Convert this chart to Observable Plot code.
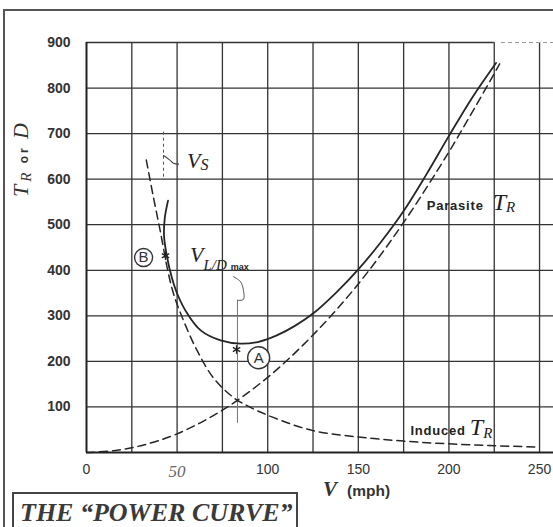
<!DOCTYPE html>
<html>
<head>
<meta charset="utf-8">
<script src="https://cdn.jsdelivr.net/npm/d3@7"></script>
<script src="https://cdn.jsdelivr.net/npm/@observablehq/plot@0.6"></script>
<style>
  body { margin: 0; background: #fff; }
  #wrap { position: relative; width: 553px; height: 527px; overflow: hidden; background: #fff; }
  #frame { position: absolute; left: 3px; top: 9px; width: 600px; height: 600px;
           border-left: 2px solid #555; border-top: 2px solid #555; pointer-events: none; }
  #titlebox { position: absolute; left: 12px; top: 492px; width: 286px; height: 60px;
              border: 2px solid #444; box-sizing: border-box; }
  #titlebox span { position: absolute; left: 6px; top: 4px; white-space: nowrap;
                   font-family: "Liberation Serif", serif; font-style: italic; font-weight: bold;
                   font-size: 26px; color: #3a3a3a; }
  #chart { position: absolute; left: 0; top: 0; }
</style>
</head>
<body>
<div id="wrap">
  <div id="chart"></div>
  <div id="frame"></div>
  <div id="titlebox"><span>THE “POWER CURVE”</span></div>
</div>
<script>
// ---- data ----
const V_ticks = [0, 50, 100, 150, 200, 250];
const TR_ticks = [100, 200, 300, 400, 500, 600, 700, 800, 900];
const V_grid = [25, 50, 75, 100, 125, 150, 175, 200, 225, 250];
const TR_grid = [100, 200, 300, 400, 500, 600, 700, 800];

// Parasite T_R (dashed)
const parasiteV  = [0, 15, 30, 50, 75, 100, 125, 150, 175, 200, 215, 228];
const parasiteTR = [0, 4, 15, 41, 93, 165, 258, 370, 505, 660, 762, 853];

// Induced T_R (dashed)
const inducedV  = [33, 37, 41, 44.5, 48, 53.6, 61, 70, 81, 90, 103, 125, 150, 175, 200, 225, 250];
const inducedTR = [642, 559, 480, 406, 349, 289, 224, 164, 121, 100, 77, 48, 34, 25, 19, 15, 12];

// Total T_R (solid)
const totalV  = [45, 43.2, 42.8, 44.5, 47, 50, 55.6, 63, 74, 85, 95, 105, 115, 125, 137.5, 150, 162.5, 175, 187.5, 200, 213, 226];
const totalTR = [553, 515, 475, 428, 385, 349, 305, 268, 246, 239, 243, 257, 278, 305, 350, 402, 462, 530, 610, 695, 780, 855];

// annotation anchors (data coordinates)
const circleB = {V: 31.5, TR: 428, L: "B"};
const circleA = {V: 95, TR: 208, L: "A"};
const starV = [43.6, 82.8];
const starTR = [432, 226];
const vsLineV = 42.5, vsLineTR = [703, 597];
const vsLeaderV = [42.5, 45.7, 48, 50.8];
const vsLeaderTR = [652, 643, 635, 633];
const ldLineV = 83.3, ldLineTR = [64, 334];
const ldLeaderV = [83.3, 86.6, 86.6, 85.0, 81.1];
const ldLeaderTR = [334, 336, 356, 375, 386];

const rows = (xs, ys) => xs.map((v, i) => ({V: v, TR: ys[i]}));

const ink = "#262626";
const gridInk = "#333";

const chart = Plot.plot({
  width: 553,
  height: 527,
  marginLeft: 86,
  marginRight: 0,
  marginTop: 42,
  marginBottom: 75,
  x: {domain: [0, 257.7]},
  y: {domain: [0, 900]},
  style: {background: "transparent", fontFamily: "Liberation Sans, sans-serif", color: "#333"},
  marks: [
    Plot.ruleX(V_grid, {y1: 0, y2: 900, stroke: gridInk, strokeWidth: 1.3}),
    Plot.ruleY(TR_grid, {stroke: gridInk, strokeWidth: 1.3}),
    Plot.ruleY([900], {x1: 0, x2: 225, stroke: gridInk, strokeWidth: 1.3}),
    Plot.ruleY([900], {x1: 229, x2: 257.7, stroke: "#999", strokeWidth: 1, strokeDasharray: "4,3"}),
    Plot.ruleX([0], {y1: 0, y2: 900, stroke: "#222", strokeWidth: 2}),
    Plot.ruleY([0], {stroke: "#222", strokeWidth: 2}),
    // annotation guide lines
    Plot.ruleX([vsLineV], {y1: vsLineTR[0], y2: vsLineTR[1], stroke: "#555", strokeWidth: 1, strokeDasharray: "3,3"}),
    Plot.line(rows(vsLeaderV, vsLeaderTR), {x: "V", y: "TR", stroke: "#444", strokeWidth: 1.1, curve: "catmull-rom"}),
    Plot.ruleX([ldLineV], {y1: ldLineTR[0], y2: ldLineTR[1], stroke: "#777", strokeWidth: 1}),
    Plot.line(rows(ldLeaderV, ldLeaderTR), {x: "V", y: "TR", stroke: "#555", strokeWidth: 1, curve: "catmull-rom"}),
    // curves
    Plot.line(rows(parasiteV, parasiteTR), {x: "V", y: "TR", stroke: ink, strokeWidth: 1.5, strokeDasharray: "8,5", curve: "catmull-rom"}),
    Plot.line(rows(inducedV, inducedTR), {x: "V", y: "TR", stroke: ink, strokeWidth: 1.5, strokeDasharray: "8,5", curve: "catmull-rom"}),
    Plot.line(rows(totalV, totalTR), {x: "V", y: "TR", stroke: ink, strokeWidth: 1.8, curve: "catmull-rom"}),
    // circled points and stars
    Plot.dot([circleB], {x: "V", y: "TR", r: 9, stroke: "#333", strokeWidth: 1.4, fill: "white"}),
    Plot.dot([circleA], {x: "V", y: "TR", r: 11, stroke: "#333", strokeWidth: 1.4, fill: "white"}),
    Plot.text([circleB, circleA], {x: "V", y: "TR", text: "L", fontSize: 15, fill: "#333", fontFamily: "Liberation Sans"}),
    Plot.dot(rows(starV, starTR), {x: "V", y: "TR", symbol: "asterisk", r: 4, stroke: "#222", strokeWidth: 1.3}),
    // axes
    Plot.axisX(V_ticks, {tickSize: 0, tickPadding: 12, label: null, fontSize: 14, fill: "#333"}),
    Plot.axisY(TR_ticks, {tickSize: 0, tickPadding: 16, label: null, fontSize: 14, fontWeight: "bold", fill: "#333"})
  ]
});

document.getElementById("chart").appendChild(chart);

const sx = chart.scale("x"), sy = chart.scale("y");
const svg = d3.select(chart);

// handwritten-looking "50"
svg.selectAll("text").filter(function () { return this.textContent === "50"; })
  .attr("font-family", "Liberation Serif").attr("font-style", "italic").attr("font-size", 17).attr("fill", "#666");

function rich(x, y, parts, attrs = {}) {
  const t = svg.append("text").attr("x", x).attr("y", y).attr("fill", "#222").attr("text-anchor", "start");
  for (const [k, v] of Object.entries(attrs)) t.attr(k, v);
  for (const p of parts) {
    const s = t.append("tspan").text(p.t)
      .attr("font-family", p.f || "Liberation Serif")
      .attr("font-size", p.s)
      .attr("font-style", p.i ? "italic" : "normal")
      .attr("font-weight", p.b ? "bold" : "normal");
    if (p.dy) s.attr("dy", p.dy);
    if (p.dx) s.attr("dx", p.dx);
    if (p.ls != null) s.attr("letter-spacing", p.ls);
  }
  return t;
}

// V_S
rich(sx.apply(55.7), sy.apply(623), [
  {t: "V", s: 22, i: true},
  {t: "S", s: 16, i: true, dy: 2}
]);

// V_L/D max
rich(sx.apply(57.4), sy.apply(417), [
  {t: "V", s: 22, i: true},
  {t: "L/D", s: 15, i: true, dy: 8},
  {t: "max", s: 9, f: "Liberation Sans", b: true, dx: 4}
]);

// Parasite T_R
rich(sx.apply(188), sy.apply(531), [
  {t: "Parasite", s: 13, f: "Liberation Sans", b: true, ls: 0.8},
  {t: "T", s: 24, i: true, dx: 9, ls: 0},
  {t: "R", s: 15, i: true, dy: 2}
]);

// Induced T_R
rich(sx.apply(179), sy.apply(37), [
  {t: "Induced", s: 13, f: "Liberation Sans", b: true, ls: 0.8},
  {t: "T", s: 24, i: true, dx: 4, ls: 0},
  {t: "R", s: 15, i: true, dy: 3}
]);

// y axis label: T_R or D
rich(0, 0, [
  {t: "T", s: 22, i: true},
  {t: "R", s: 15, i: true, dy: 3},
  {t: " or ", s: 12, f: "Liberation Sans", b: true, dy: -3},
  {t: "D", s: 22, i: true}
], {transform: "translate(28,197) rotate(-90)", "letter-spacing": 3, fill: "#333"});

// x axis label: V (mph)
rich(323, 496, [{t: "V", s: 21, i: true, b: true}], {fill: "#333"});
rich(347, 496, [{t: "(mph)", s: 15.5, f: "Liberation Sans", b: true}], {fill: "#333"});
</script>
</body>
</html>
